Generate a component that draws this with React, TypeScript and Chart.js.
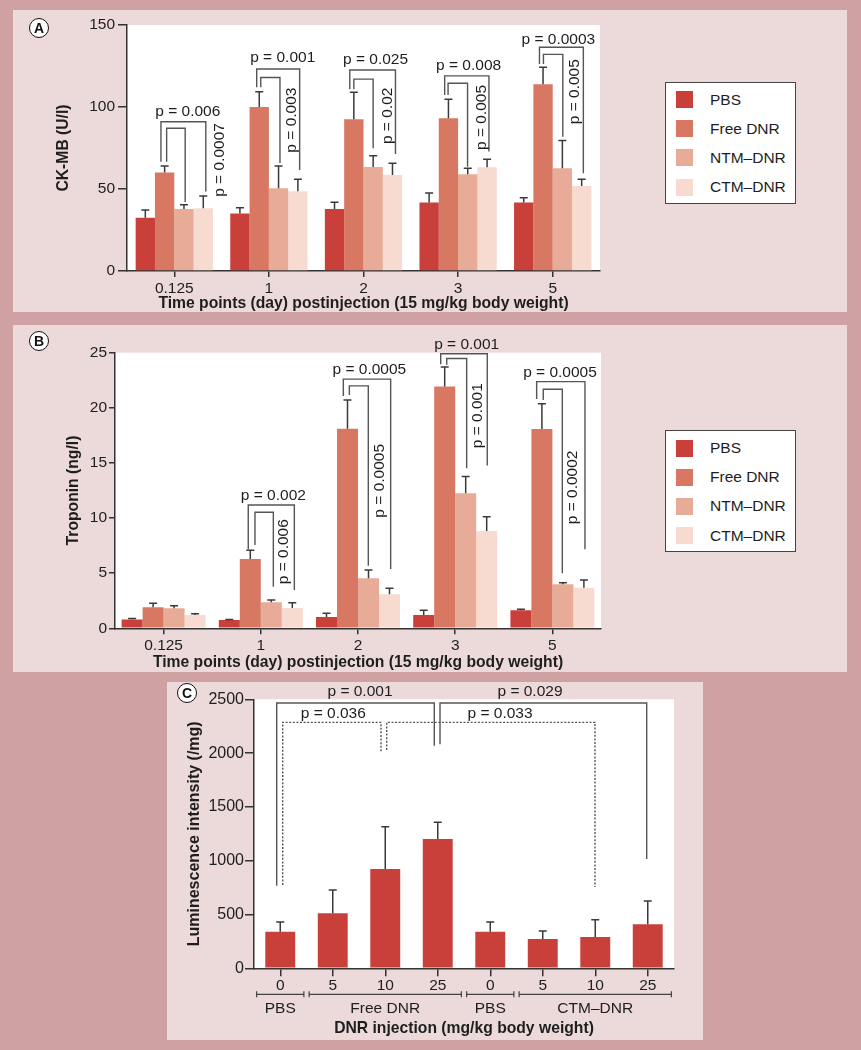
import React, { useEffect, useRef } from 'react';
import { Chart, registerables } from 'chart.js';
Chart.register(...registerables);

const FONT = '"Liberation Sans", Arial, Helvetica, sans-serif';

// ---------- Panels A & B ----------
const timePoints = ['0.125', '1', '2', '3', '5'];
const seriesNames = ['PBS', 'Free DNR', 'NTM–DNR', 'CTM–DNR'];
const seriesColors = ['#c9403a', '#d97862', '#e7ab97', '#f7dbd0'];

// CK-MB (U/l)
const ckmbPBS = [32.5, 35, 37.8, 41.7, 41.7];
const ckmbFree = [60, 100, 92.5, 93.1, 113.8];
const ckmbNTM = [37.8, 50.4, 63.4, 59, 62.6];
const ckmbCTM = [38.2, 48.6, 58.5, 63.2, 51.8];
const ckmbPBSErr = [4.7, 3.6, 4.1, 5.9, 3.0];
const ckmbFreeErr = [4, 9.3, 16.5, 11.6, 10.4];
const ckmbNTMErr = [2.6, 13.6, 6.9, 3.6, 16.9];
const ckmbCTMErr = [7.5, 7.4, 7.2, 4.9, 4.1];
const ckmbTicks = [0, 50, 100, 150];

// comparisons: [xStart, xEnd, top, leftEnd, rightEnd] (category index, U/l)
const ckmbBrackets = [
  [-0.141, 0.333, 91, 66.6, 48.4], [-0.081, 0.115, 87, 66.6, 42],
  [0.871, 1.325, 123.2, 112, 61.6], [0.914, 1.117, 118, 112, 65.9],
  [1.855, 2.338, 122.6, 110.8, 71.3], [1.898, 2.102, 117, 110.8, 74.8],
  [2.858, 3.326, 119, 107.3, 72.8], [2.894, 3.1, 114.5, 107.3, 63.6],
  [3.86, 4.324, 136.4, 126.2, 59.6], [3.902, 4.107, 132.1, 126.2, 81.9],
];
// p labels: [text, x, y, vertical]
const ckmbPLabels: [string, number, number, number][] = [
  ['p = 0.006', 0.143, 97, 0], ['p = 0.0007', 0.481, 67.7, 1],
  ['p = 0.001', 1.146, 130, 0], ['p = 0.003', 1.241, 92, 1],
  ['p = 0.025', 2.127, 129, 0], ['p = 0.02', 2.256, 94.6, 1],
  ['p = 0.008', 3.111, 125.2, 0], ['p = 0.005', 3.245, 93.6, 1],
  ['p = 0.0003', 4.06, 141.3, 0], ['p = 0.005', 4.236, 109.3, 1],
];

// Troponin (ng/l)
const tropPBS = [0.8, 0.75, 1.03, 1.2, 1.63];
const tropFree = [1.9, 6.29, 18.11, 21.93, 18.08];
const tropNTM = [1.81, 2.36, 4.54, 12.25, 3.99];
const tropCTM = [1.2, 1.84, 3.09, 8.83, 3.68];
const tropPBSErr = [0.1, 0.05, 0.33, 0.43, 0.09];
const tropFreeErr = [0.37, 0.79, 2.59, 1.77, 2.3];
const tropNTMErr = [0.24, 0.21, 0.75, 1.51, 0.15];
const tropCTMErr = [0.12, 0.48, 0.54, 1.3, 0.7];
const tropTicks = [0, 5, 10, 15, 20, 25];

const tropBrackets = [
  [0.871, 1.345, 11.19, 7.17, 3.48], [0.94, 1.129, 10.53, 7.56, 3.78],
  [1.849, 2.336, 22.6, 21.08, 5.38], [1.911, 2.106, 21.99, 21.17, 5.68],
  [2.851, 3.33, 24.9, 23.96, 14.76], [2.913, 3.118, 24.47, 23.9, 14.52],
  [3.838, 4.335, 22.38, 20.8, 7.17], [3.906, 4.102, 21.69, 20.7, 4.99],
];
const tropPLabels: [string, number, number, number][] = [
  ['p = 0.002', 1.129, 12.03, 0], ['p = 0.006', 1.239, 6.95, 1],
  ['p = 0.0005', 2.117, 23.44, 0], ['p = 0.0005', 2.226, 13.38, 1],
  ['p = 0.001', 3.118, 25.7, 0], ['p = 0.001', 3.227, 19.28, 1],
  ['p = 0.0005', 4.078, 23.2, 0], ['p = 0.0002', 4.205, 12.78, 1],
];

// ---------- Panel C ----------
const doseLabels = ['0', '5', '10', '25', '0', '5', '10', '25'];
const lumValues = [340, 511, 923, 1202, 340, 272, 291, 409];
const lumErr = [90, 217, 393, 155, 90, 75, 161, 216];
const lumTicks = [0, 500, 1000, 1500, 2000, 2500];
const groupNames = ['PBS', 'Free DNR', 'PBS', 'CTM–DNR'];
const groupFirst = [0, 1, 4, 5];
const groupLast = [0, 3, 4, 7];
// [xStart, xEnd, top, leftEnd, rightEnd, dotted]
const lumBrackets = [
  [-0.068, 2.934, 2466, 768, 2069, 0],
  [0.047, 1.919, 2286, 774, 2013, 1],
  [3.043, 6.98, 2466, 2082, 1016, 0],
  [2.028, 5.995, 2286, 2029, 756, 1],
];
const lumPLabels: [string, number, number, number][] = [
  ['p = 0.001', 1.519, 2571, 0], ['p = 0.036', 1.01, 2370, 0],
  ['p = 0.029', 4.757, 2571, 0], ['p = 0.033', 4.186, 2370, 0],
];

const AXIS = '#333';
const TEXT = '#1e1e1e';
const LINE = '#555';

const whiteArea = {
  id: 'whiteArea',
  beforeDraw(chart: any) {
    const { ctx, chartArea: a } = chart;
    ctx.save();
    ctx.fillStyle = '#ffffff';
    ctx.fillRect(a.left, a.top, a.right - a.left, a.bottom - a.top);
    ctx.restore();
  },
};

const errorBars = {
  id: 'errorBars',
  afterDatasetsDraw(chart: any, _args: any, opts: any) {
    const { ctx } = chart;
    const ys = chart.scales.y;
    ctx.save();
    ctx.strokeStyle = '#3a3a3a';
    ctx.lineWidth = 1.5;
    chart.data.datasets.forEach((ds: any, di: number) => {
      const meta = chart.getDatasetMeta(di);
      const errs = opts.errors[di];
      meta.data.forEach((bar: any, i: number) => {
        const top = ys.getPixelForValue(ds.data[i] + errs[i]);
        ctx.beginPath();
        ctx.moveTo(bar.x, bar.y);
        ctx.lineTo(bar.x, top);
        ctx.moveTo(bar.x - 4, top);
        ctx.lineTo(bar.x + 4, top);
        ctx.stroke();
      });
    });
    ctx.restore();
  },
};

const pValues = {
  id: 'pValues',
  afterDraw(chart: any, _args: any, opts: any) {
    const { ctx } = chart;
    const xs = chart.scales.x;
    const ys = chart.scales.y;
    ctx.save();
    ctx.strokeStyle = LINE;
    ctx.lineWidth = 1.4;
    (opts.brackets || []).forEach((b: number[]) => {
      const x1 = xs.getPixelForValue(b[0]);
      const x2 = xs.getPixelForValue(b[1]);
      ctx.setLineDash(b[5] ? [2, 1.6] : []);
      ctx.beginPath();
      ctx.moveTo(x1, ys.getPixelForValue(b[3]));
      ctx.lineTo(x1, ys.getPixelForValue(b[2]));
      ctx.lineTo(x2, ys.getPixelForValue(b[2]));
      ctx.lineTo(x2, ys.getPixelForValue(b[4]));
      ctx.stroke();
    });
    ctx.setLineDash([]);
    ctx.fillStyle = TEXT;
    ctx.font = `${opts.fontSize || 15.5}px ${FONT}`;
    ctx.textAlign = 'center';
    ctx.textBaseline = 'middle';
    (opts.labels || []).forEach((l: [string, number, number, number]) => {
      const x = xs.getPixelForValue(l[1]);
      const y = ys.getPixelForValue(l[2]);
      ctx.save();
      ctx.translate(x, y);
      if (l[3]) ctx.rotate(-Math.PI / 2);
      ctx.fillText(l[0], 0, 0);
      ctx.restore();
    });
    ctx.restore();
  },
};

const groupAxis = {
  id: 'groupAxis',
  afterDraw(chart: any, _args: any, opts: any) {
    if (!opts.names) return;
    const { ctx } = chart;
    const xs = chart.scales.x;
    const base = chart.chartArea.bottom;
    const ly = base + 26;
    ctx.save();
    ctx.strokeStyle = '#444';
    ctx.lineWidth = 1.2;
    ctx.fillStyle = TEXT;
    ctx.font = `15.5px ${FONT}`;
    ctx.textAlign = 'center';
    ctx.textBaseline = 'middle';
    opts.names.forEach((name: string, g: number) => {
      const x1 = xs.getPixelForValue(opts.first[g] - 0.45);
      const x2 = xs.getPixelForValue(opts.last[g] + 0.45);
      ctx.beginPath();
      ctx.moveTo(x1, ly); ctx.lineTo(x2, ly);
      ctx.moveTo(x1, ly - 3); ctx.lineTo(x1, ly + 3);
      ctx.moveTo(x2, ly - 3); ctx.lineTo(x2, ly + 3);
      ctx.stroke();
      ctx.fillText(name, (x1 + x2) / 2, base + 40);
    });
    ctx.restore();
  },
};

type Cfg = {
  labels: string[];
  datasets: { label: string; data: number[]; color: string }[];
  errors: number[][];
  yMax: number;
  yTicks: number[];
  yTitle: string;
  xTitle: string;
  width: number;
  height: number;
  pad: { left: number; right: number; top: number };
  yWidth: number;
  xHeight: number;
  yTick: number;
  yPad: number;
  xTick: number;
  xPad: number;
  xTitlePad: number;
  yFont: number;
  yTitleFont: number;
  catPct: number;
  barPct: number;
  brackets: number[][];
  pLabels: [string, number, number, number][];
  groups?: any;
};

function BarChart({ cfg }: { cfg: Cfg }) {
  const ref = useRef<HTMLCanvasElement>(null);
  useEffect(() => {
    const c = cfg;
    const chart = new Chart(ref.current as HTMLCanvasElement, {
      type: 'bar',
      data: {
        labels: c.labels,
        datasets: c.datasets.map((d) => ({
          label: d.label,
          data: d.data,
          backgroundColor: d.color,
          borderWidth: 0,
          categoryPercentage: c.catPct,
          barPercentage: c.barPct,
        })),
      },
      options: {
        responsive: false,
        animation: false,
        events: [],
        layout: { padding: { left: c.pad.left, right: c.pad.right, top: c.pad.top, bottom: 0 } },
        plugins: {
          legend: { display: false },
          tooltip: { enabled: false },
          errorBars: { errors: c.errors },
          pValues: { brackets: c.brackets, labels: c.pLabels },
          groupAxis: c.groups || {},
        } as any,
        scales: {
          x: {
            grid: { display: true, drawOnChartArea: false, drawTicks: true, tickLength: c.xTick, offset: false, color: AXIS, lineWidth: 1.5 },
            border: { display: true, color: AXIS, width: 1.5 },
            ticks: { color: TEXT, font: { family: FONT, size: 15.5 }, padding: c.xPad, maxRotation: 0, autoSkip: false },
            title: {
              display: true, text: c.xTitle, color: TEXT,
              font: { family: FONT, size: 15.7, weight: 'bold', lineHeight: 1 },
              padding: { top: 0, bottom: c.xTitlePad },
            },
            afterFit: (s: any) => { s.height = c.xHeight; },
          },
          y: {
            min: 0, max: c.yMax,
            afterBuildTicks: (s: any) => { s.ticks = c.yTicks.map((v) => ({ value: v })); },
            grid: { display: true, drawOnChartArea: false, drawTicks: true, tickLength: c.yTick, color: AXIS, lineWidth: 1.5 },
            border: { display: true, color: AXIS, width: 1.5 },
            ticks: { color: TEXT, font: { family: FONT, size: c.yFont }, padding: c.yPad, callback: (v: any) => String(v) },
            title: {
              display: true, text: c.yTitle, color: TEXT,
              font: { family: FONT, size: c.yTitleFont, weight: 'bold', lineHeight: 1 },
              padding: { top: 4, bottom: 0 },
            },
            afterFit: (s: any) => { s.width = c.yWidth; },
          },
        } as any,
      },
      plugins: [whiteArea, errorBars, pValues, groupAxis],
    });
    return () => chart.destroy();
  }, [cfg]);
  return <canvas ref={ref} width={cfg.width} height={cfg.height} style={{ width: cfg.width, height: cfg.height, display: 'block' }} />;
}

function Legend({ top }: { top: number }) {
  return (
    <div style={{ position: 'absolute', left: 665, top, width: 131, height: 122, boxSizing: 'border-box', border: '1.5px solid #444', background: '#fff' }}>
      {seriesNames.map((n, i) => (
        <div key={n} style={{ position: 'absolute', left: 10, top: 8 + i * 29.2, height: 18, display: 'flex', alignItems: 'center' }}>
          <div style={{ width: 17, height: 17, background: seriesColors[i] }} />
          <span style={{ marginLeft: 17, font: `15.5px ${FONT}`, color: TEXT, whiteSpace: 'nowrap' }}>{n}</span>
        </div>
      ))}
    </div>
  );
}

function Letter({ x, y, t }: { x: number; y: number; t: string }) {
  return (
    <div style={{ position: 'absolute', left: x - 10, top: y - 10, width: 20, height: 20, boxSizing: 'border-box', borderRadius: '50%', border: '1.5px solid #111', background: '#fff', display: 'flex', alignItems: 'center', justifyContent: 'center', font: `bold 14px ${FONT}`, color: '#111' }}>{t}</div>
  );
}

const cfgA: Cfg = {
  labels: timePoints,
  datasets: [
    { label: seriesNames[0], data: ckmbPBS, color: seriesColors[0] },
    { label: seriesNames[1], data: ckmbFree, color: seriesColors[1] },
    { label: seriesNames[2], data: ckmbNTM, color: seriesColors[2] },
    { label: seriesNames[3], data: ckmbCTM, color: seriesColors[3] },
  ],
  errors: [ckmbPBSErr, ckmbFreeErr, ckmbNTMErr, ckmbCTMErr],
  yMax: 150, yTicks: ckmbTicks,
  yTitle: 'CK-MB (U/l)',
  xTitle: 'Time points (day) postinjection (15 mg/kg body weight)',
  width: 834, height: 302,
  pad: { left: 39, right: 247, top: 15 },
  yWidth: 75, xHeight: 41, yTick: 9, yPad: 3, xTick: 6, xPad: 2.5, xTitlePad: 0,
  yFont: 15.5, yTitleFont: 15.7,
  catPct: 0.817, barPct: 1,
  brackets: ckmbBrackets, pLabels: ckmbPLabels,
};

const cfgB: Cfg = {
  labels: timePoints,
  datasets: [
    { label: seriesNames[0], data: tropPBS, color: seriesColors[0] },
    { label: seriesNames[1], data: tropFree, color: seriesColors[1] },
    { label: seriesNames[2], data: tropNTM, color: seriesColors[2] },
    { label: seriesNames[3], data: tropCTM, color: seriesColors[3] },
  ],
  errors: [tropPBSErr, tropFreeErr, tropNTMErr, tropCTMErr],
  yMax: 25, yTicks: tropTicks,
  yTitle: 'Troponin (ng/l)',
  xTitle: 'Time points (day) postinjection (15 mg/kg body weight)',
  width: 834, height: 347,
  pad: { left: 49, right: 246, top: 27.7 },
  yWidth: 53, xHeight: 43.7, yTick: 6, yPad: 2, xTick: 6, xPad: 2, xTitlePad: 1.5,
  yFont: 15.5, yTitleFont: 15.7,
  catPct: 0.864, barPct: 1,
  brackets: tropBrackets, pLabels: tropPLabels,
};

const cfgC: Cfg = {
  labels: doseLabels,
  datasets: [{ label: 'Luminescence', data: lumValues, color: seriesColors[0] }],
  errors: [lumErr],
  yMax: 2500, yTicks: lumTicks,
  yTitle: 'Luminescence intensity (/mg)',
  xTitle: 'DNR injection (mg/kg body weight)',
  width: 536, height: 358,
  pad: { left: 16, right: 29, top: 17.3 },
  yWidth: 71, xHeight: 71.7, yTick: 9, yPad: 1, xTick: 8, xPad: 0, xTitlePad: 3.5,
  yFont: 16, yTitleFont: 16,
  catPct: 1, barPct: 0.57,
  brackets: lumBrackets, pLabels: lumPLabels,
  groups: { names: groupNames, first: groupFirst, last: groupLast },
};

export default function App() {
  return (
    <div style={{ position: 'absolute', left: 0, top: 0, width: 861, height: 1050, background: '#d0a1a3', overflow: 'hidden' }}>
      <div style={{ position: 'absolute', left: 13, top: 10, width: 834, height: 302, background: '#ecd9d9' }}>
        <BarChart cfg={cfgA} />
      </div>
      <div style={{ position: 'absolute', left: 13, top: 325, width: 834, height: 347, background: '#ecd9d9' }}>
        <BarChart cfg={cfgB} />
      </div>
      <div style={{ position: 'absolute', left: 167, top: 682, width: 536, height: 358, background: '#ecd9d9' }}>
        <BarChart cfg={cfgC} />
      </div>
      <Legend top={81.5} />
      <Legend top={430} />
      <Letter x={39} y={28} t="A" />
      <Letter x={39} y={341} t="B" />
      <Letter x={187} y={693} t="C" />
    </div>
  );
}
